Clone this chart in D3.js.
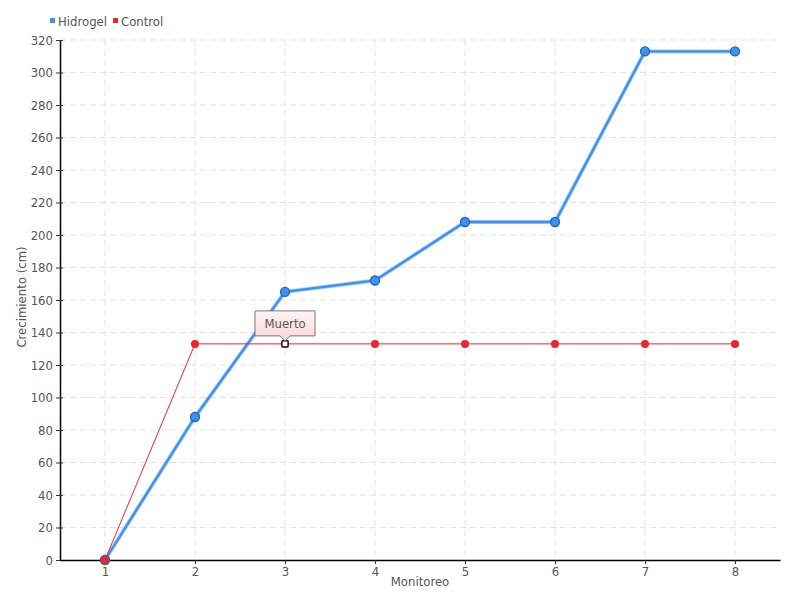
<!DOCTYPE html>
<html>
<head>
<meta charset="utf-8">
<script src="https://cdn.jsdelivr.net/npm/d3@7"></script>
<style>
  body { margin: 0; background: #fff; }
  text { font-family: "DejaVu Sans Condensed", "Liberation Sans Narrow", sans-serif; fill: #555; }
</style>
</head>
<body>
<svg width="800" height="600"></svg>
<script>
// data
var monitoreo = [1, 2, 3, 4, 5, 6, 7, 8];
var hidrogel = [0, 88, 165, 172, 208, 208, 313, 313];
var control = [0, 133, 133, 133, 133, 133, 133, 133];
var yTicks = d3.range(0, 321, 20);
var seriesNames = ["Hidrogel", "Control"];
var seriesColors = ["#3d92ef", "#f0232e"];
var deadIndex = 2; // control marker labelled "Muerto"

var svg = d3.select("svg"),
    margin = {top: 40, right: 20, bottom: 40, left: 60},
    width = 800 - margin.left - margin.right,
    height = 600 - margin.top - margin.bottom;

var x = d3.scaleLinear().domain([0.5, 8.5]).range([0, width]);
var y = d3.scaleLinear().domain([0, 320]).range([height, 0]);

var g = svg.append("g")
    .attr("transform", "translate(" + margin.left + "," + margin.top + ")");

// grid
g.append("g").selectAll("line")
  .data(yTicks.slice(1))
  .enter().append("line")
    .attr("x1", 0).attr("x2", width)
    .attr("y1", function(d) { return y(d); })
    .attr("y2", function(d) { return y(d); })
    .attr("stroke", "#e3e3e3").attr("stroke-dasharray", "6,4");

g.append("g").selectAll("line")
  .data(monitoreo)
  .enter().append("line")
    .attr("y1", 0).attr("y2", height)
    .attr("x1", function(d) { return x(d); })
    .attr("x2", function(d) { return x(d); })
    .attr("stroke", "#e3e3e3").attr("stroke-dasharray", "6,4");

// axes
var yAxis = g.append("g")
    .call(d3.axisLeft(y).tickValues(yTicks).tickSize(4).tickSizeOuter(0));
yAxis.selectAll(".tick line").attr("x2", -4).clone().attr("x2", 3);
var xAxis = g.append("g")
    .attr("transform", "translate(0," + height + ")")
    .call(d3.axisBottom(x).tickValues(monitoreo).tickSize(4).tickSizeOuter(0));
g.selectAll(".domain").attr("stroke", "#000").attr("stroke-width", 1.5);
g.selectAll(".tick line").attr("stroke", "#333");
g.selectAll(".tick text").style("font-size", "13px").attr("fill", "#555");

// titles
g.append("text")
    .attr("x", width / 2).attr("y", height + 26)
    .attr("text-anchor", "middle").style("font-size", "13px")
    .text("Monitoreo");
g.append("text")
    .attr("transform", "rotate(-90)")
    .attr("x", -(height / 2 - 3)).attr("y", -34)
    .attr("text-anchor", "middle").style("font-size", "13px")
    .text("Crecimiento (cm)");

var line = d3.line()
    .x(function(d, i) { return x(monitoreo[i]); })
    .y(function(d) { return y(d); });

// hidrogel line
g.append("path").datum(hidrogel)
    .attr("d", line).attr("fill", "none")
    .attr("stroke", "#a6cdf7").attr("stroke-width", 4);
g.append("path").datum(hidrogel)
    .attr("d", line).attr("fill", "none")
    .attr("stroke", seriesColors[0]).attr("stroke-width", 2.3);
g.append("g").selectAll("circle")
  .data(hidrogel)
  .enter().append("circle")
    .attr("cx", function(d, i) { return x(monitoreo[i]); })
    .attr("cy", function(d) { return y(d); })
    .attr("r", 4.5)
    .attr("fill", seriesColors[0]).attr("stroke", "#1f63b8").attr("stroke-width", 1.3);

// control line
g.append("path").datum(control)
    .attr("d", line).attr("fill", "none")
    .attr("stroke", seriesColors[1]).attr("stroke-width", 1);
g.append("g").selectAll("circle")
  .data(control)
  .enter().append("circle")
    .attr("cx", function(d, i) { return x(monitoreo[i]); })
    .attr("cy", function(d) { return y(d); })
    .attr("r", function(d, i) { return i === 0 ? 4.5 : 4; })
    .attr("fill", seriesColors[1])
    .attr("stroke", function(d, i) { return i === 0 ? "#2a64b0" : "none"; })
    .attr("stroke-width", 1);

// "Muerto" marker
var dx = x(monitoreo[deadIndex]), dy = y(control[deadIndex]);
g.append("rect")
    .attr("x", dx - 3).attr("y", dy - 3).attr("width", 6).attr("height", 6)
    .attr("fill", "#fff").attr("stroke", "#000").attr("stroke-width", 1.2);

var defs = svg.append("defs");
var grad = defs.append("linearGradient").attr("id", "tip").attr("x1", 0).attr("x2", 0).attr("y1", 0).attr("y2", 1);
grad.append("stop").attr("offset", "0%").attr("stop-color", "#fff5f5");
grad.append("stop").attr("offset", "100%").attr("stop-color", "#fbd5d5");

var tw = 60, th = 25, tb = dy - 8;
g.append("path")
    .attr("d", "M" + (dx - tw / 2) + "," + (tb - th) + "h" + tw + "v" + th +
      "h" + (-(tw / 2 - 5)) + "l-5,5l-5,-5h" + (-(tw / 2 - 5)) + "z")
    .attr("fill", "url(#tip)").attr("stroke", "#777").attr("stroke-width", 1);
g.append("text")
    .attr("x", dx).attr("y", tb - th / 2 + 5)
    .attr("text-anchor", "middle").style("font-size", "13px").attr("fill", "#444")
    .text("Muerto");

// legend
var legend = svg.append("g").attr("transform", "translate(50,21)");
var lx = 0;
seriesNames.forEach(function(name, i) {
  legend.append("rect")
      .attr("x", lx).attr("y", -3).attr("width", 5).attr("height", 5)
      .attr("fill", seriesColors[i]);
  var t = legend.append("text")
      .attr("x", lx + 8).attr("y", 5)
      .style("font-size", "13px").attr("fill", "#555")
      .text(name);
  lx += t.node().getComputedTextLength() + 14;
});
</script>
</body>
</html>
